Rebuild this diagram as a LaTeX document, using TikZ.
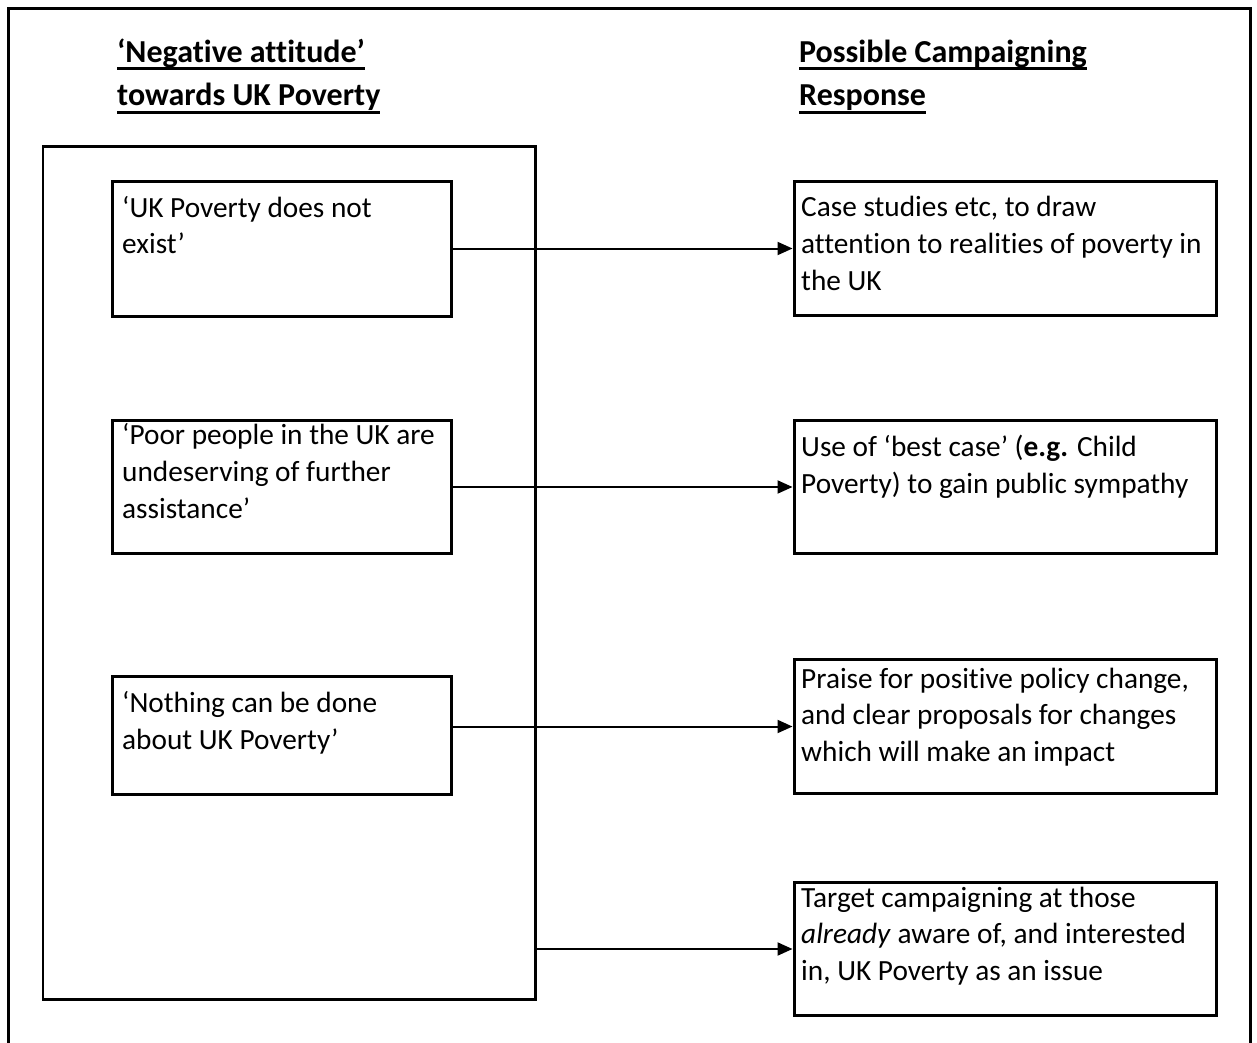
\documentclass[tikz,border=0pt]{standalone}
\usepackage{fontspec}
\setmainfont{Carlito}[Ligatures=NoCommon]
\usetikzlibrary{arrows.meta}
% heading underline: a rule under the whole line
\newcommand\hdul[1]{\setbox0=\hbox{#1}\rlap{\rule[-8pt]{\wd0}{3pt}}\box0}

\begin{document}
\begin{tikzpicture}[x=1pt,y=-1pt,
  frame/.style={line width=3pt},
  bigbox/.style={draw, line width=2.5pt, inner sep=0pt, anchor=north west},
  card/.style={draw, line width=3pt, inner sep=0pt, anchor=north west},
  % multi-line texts are placed by the baseline of their last line
  body/.style={anchor=base west, inner sep=0pt, align=left,
               font=\fontsize{29.3pt}{36.6pt}\selectfont},
  head/.style={anchor=base west, inner sep=0pt, align=left,
               font=\fontsize{32pt}{43.5pt}\selectfont\bfseries},
  link/.style={line width=2pt, -{Triangle[length=15pt,width=13pt]}}
]
\useasboundingbox (0,0) rectangle (1257,1043);

% page frame, open at the bottom
\draw[frame] (8.5,1043) -- (8.5,8.5) -- (1250,8.5) -- (1250,1043);

% column headings
\node[head] (hleft) at (117,106)
  {\hdul{‘Negative attitude’}\\\hdul{towards UK Poverty}};
\node[head] (hright) at (799,106)
  {\hdul{Possible Campaigning}\\\hdul{Response}};

% container for the attitudes
\node[bigbox, minimum width=492.5pt, minimum height=852.5pt] (big) at (41.5,145.5) {};

% attitudes
\node[card, minimum width=339.5pt, minimum height=135pt] (L1) at (110.5,180) {};
\node[card, minimum width=339.5pt, minimum height=133pt] (L2) at (110.5,419) {};
\node[card, minimum width=339.5pt, minimum height=118pt] (L3) at (110.5,675) {};

\node[body] (t1) at (122,253.6) {‘UK Poverty does not\\exist’};
\node[body] (t2) at (122,518) {‘Poor people in the UK are\\undeserving of further\\assistance’};
\node[body] (t3) at (122,749.3) {‘Nothing can be done\\about UK Poverty’};

% responses
\node[card, minimum width=422pt, minimum height=134pt] (R1) at (792.5,180) {};
\node[card, minimum width=422pt, minimum height=133pt] (R2) at (792.5,419) {};
\node[card, minimum width=422pt, minimum height=134pt] (R3) at (792.5,658) {};
\node[card, minimum width=422pt, minimum height=133pt] (R4) at (792.5,881) {};

\node[body] (r1) at (801,290) {Case studies etc, to draw\\attention to realities of poverty in\\the UK};
\node[body] (r2) at (801,493.3) {Use of ‘best case’ (\textbf{e.g.} Child\\Poverty) to gain public sympathy};
\node[body] (r3) at (801,761.2) {Praise for positive policy change,\\and clear proposals for changes\\which will make an impact};
\node[body] (r4) at (801,980.2) {Target campaigning at those\\\textit{already} aware of, and interested\\in, UK Poverty as an issue};

% connectors
\draw[link] (L1.east |- R1.west) -- (R1.west);
\draw[link] (L2.east |- R2.west) -- (R2.west);
\draw[link] (L3.east |- R3.west) -- (R3.west);
\draw[link] (big.east |- R4.west) -- (R4.west);
\end{tikzpicture}
\end{document}
